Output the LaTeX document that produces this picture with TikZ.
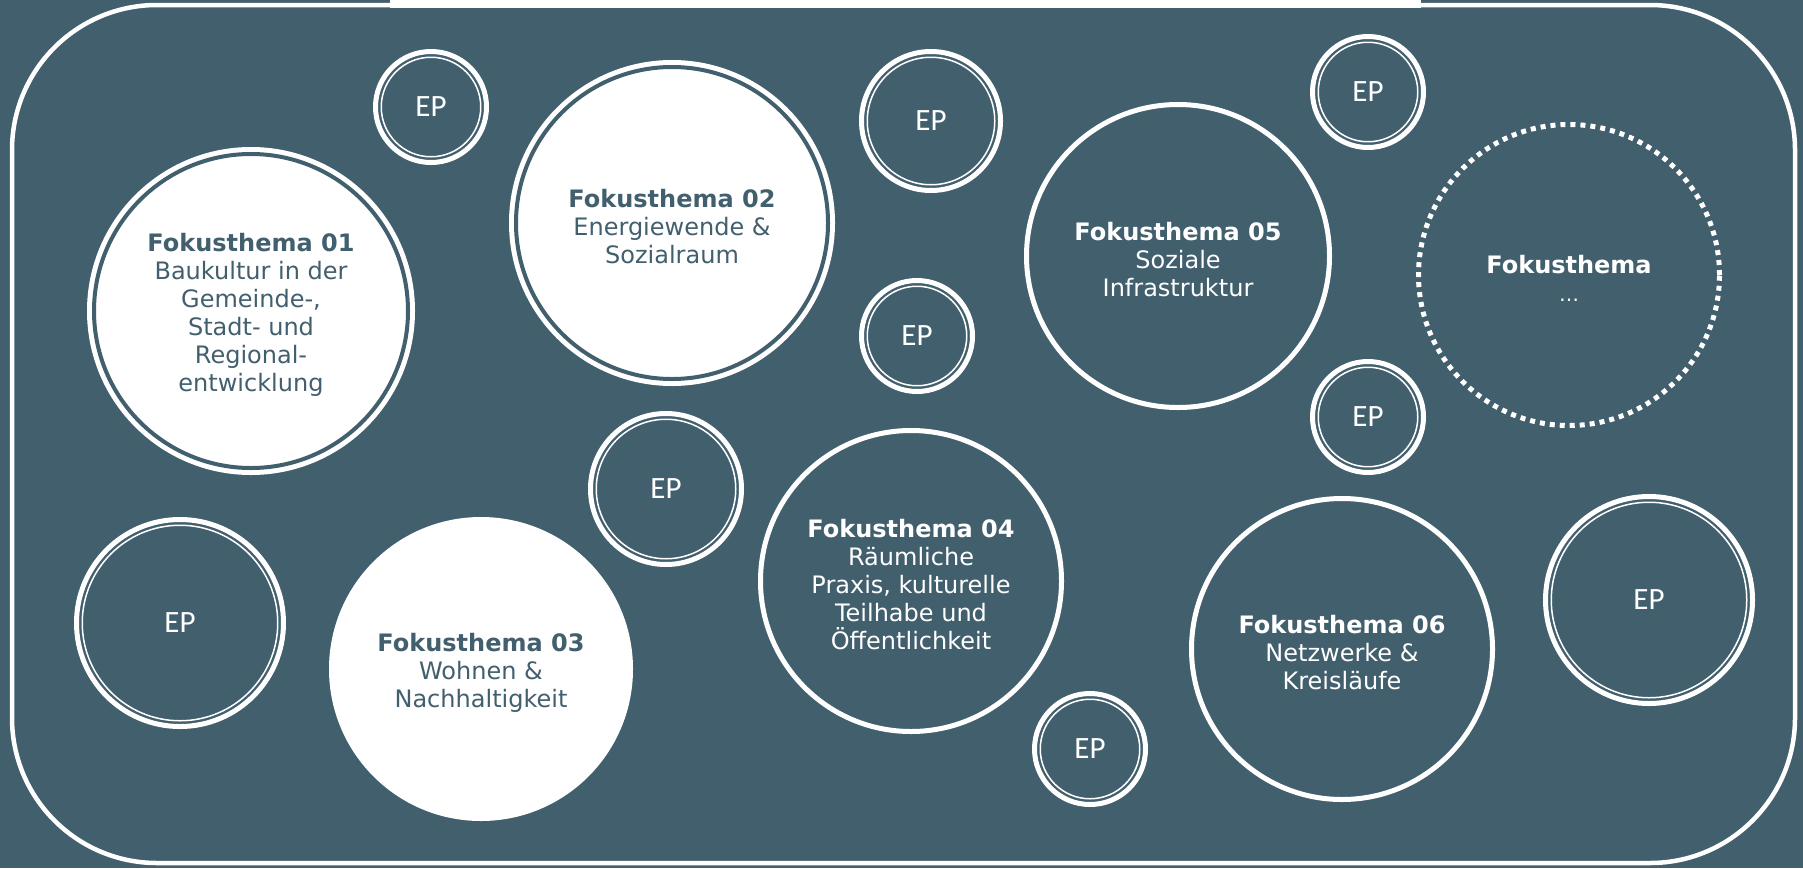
\documentclass[tikz,border=0pt]{standalone}
\usepackage{fontspec}
\setmainfont{DejaVu Sans}
\newfontfamily\epfont{Carlito}
\definecolor{slate}{HTML}{425F6E}
\begin{document}
\begin{tikzpicture}[x=1pt,y=-1pt,
  ftext/.style={font=\fontsize{24}{28}\selectfont, align=center, inner sep=0pt, yshift=-3.5pt},
  whitedouble/.style={circle, fill=white, draw=white, double=slate, double distance=4pt, line width=5pt},
  whiteplain/.style={circle, fill=white},
  darkring/.style={circle, draw=white, line width=5pt},
  dotring/.style={circle, draw=white, line width=5pt, dash pattern=on 5pt off 5pt},
  epring/.style={circle, draw=white, line width=5pt, text=white, inner sep=0pt, font=\epfont\fontsize{31}{33}\selectfont},
  frame/.style={draw=white, line width=4.5pt, rounded corners=145pt, inner sep=0pt}]
\useasboundingbox (0,0) rectangle (1803,868);
\fill[slate] (0,0) rectangle (1803,868);
\node[frame, minimum width=1783pt, minimum height=858pt] (frame) at (903.5,434) {};
\fill[white] (390,0) rectangle (1421,8);

\node[whitedouble, minimum size=314pt] (f1) at (251,311) {};
\node[ftext, text=slate] (f1t) at (f1.center)
  {\bfseries Fokusthema 01\\Baukultur in der\\Gemeinde-,\\Stadt- und\\Regional-\\entwicklung};
\node[whitedouble, minimum size=312pt] (f2) at (672,223) {};
\node[ftext, text=slate] (f2t) at (f2.center)
  {\bfseries Fokusthema 02\\Energiewende \&\\Sozialraum};
\node[whiteplain, minimum size=304pt] (f3) at (481,669) {};
\node[ftext, text=slate] (f3t) at (f3.center)
  {\bfseries Fokusthema 03\\Wohnen \&\\Nachhaltigkeit};
\node[darkring, minimum size=301pt] (f4) at (911,581) {};
\node[ftext, text=white] (f4t) at (f4.center)
  {\bfseries Fokusthema 04\\Räumliche\\Praxis, kulturelle\\Teilhabe und\\Öffentlichkeit};
\node[darkring, minimum size=303pt] (f5) at (1178,256) {};
\node[ftext, text=white] (f5t) at (f5.center)
  {\bfseries Fokusthema 05\\Soziale\\Infrastruktur};
\node[darkring, minimum size=301pt] (f6) at (1342,649) {};
\node[ftext, text=white] (f6t) at (f6.center)
  {\bfseries Fokusthema 06\\Netzwerke \&\\Kreisläufe};
\node[dotring, minimum size=301pt] (fx) at (1569,275) {};
\node[ftext, text=white] (fxt) at (fx.center)
  {\bfseries Fokusthema\\{\fontsize{20}{28}\selectfont …}};

\foreach \n/\x/\y/\r in {ep1/431/107/58, ep2/931/121/72, ep3/1368/92/58,
    ep4/917/336/58, ep5/1368/417/58, ep6/666/489/78, ep7/180/623/106,
    ep8/1649/600/106, ep9/1090/749/58}{
  \node[epring, minimum size={2*\r pt-5pt}] (\n) at (\x,\y) {EP};
  \draw[white, line width=1.5pt] (\n.center) circle[radius={\r pt-8.25pt}];
}
\end{tikzpicture}
\end{document}
